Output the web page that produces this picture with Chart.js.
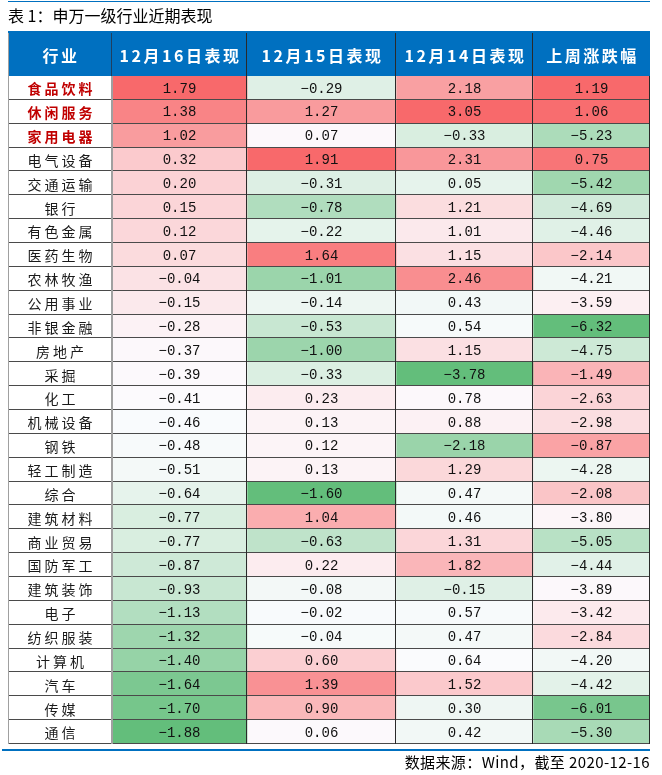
<!DOCTYPE html>
<html>
<head>
<meta charset="utf-8">
<script src="https://cdn.jsdelivr.net/npm/chart.js@4/dist/chart.umd.min.js"></script>
<style>
    body { margin: 0; background: #fff; }
    #wrap { position: relative; width: 662px; height: 775px; }
    #tableChart { position: absolute; left: 0; top: 0; }
    #title { position: absolute; left: 8px; top: 4px; font: 16px "Noto Sans CJK SC", sans-serif; color: #000; line-height: 22px; }
    #source { position: absolute; right: 12px; top: 751px; font: 15px "Noto Sans CJK SC", sans-serif; letter-spacing: 0.4px; color: #000; line-height: 22px; }
</style>
</head>
<body>
<div id="wrap">
    <canvas id="tableChart" width="662" height="775"></canvas>
    <div id="title">表 1：申万一级行业近期表现</div>
    <div id="source">数据来源：Wind，截至 2020-12-16</div>
</div>
<script>
const industries = ['食品饮料', '休闲服务', '家用电器', '电气设备', '交通运输', '银行', '有色金属', '医药生物',
    '农林牧渔', '公用事业', '非银金融', '房地产', '采掘', '化工', '机械设备', '钢铁', '轻工制造', '综合',
    '建筑材料', '商业贸易', '国防军工', '建筑装饰', '电子', '纺织服装', '计算机', '汽车', '传媒', '通信'];
const day16 = [1.79, 1.38, 1.02, 0.32, 0.20, 0.15, 0.12, 0.07, -0.04, -0.15, -0.28, -0.37, -0.39, -0.41,
    -0.46, -0.48, -0.51, -0.64, -0.77, -0.77, -0.87, -0.93, -1.13, -1.32, -1.40, -1.64, -1.70, -1.88];
const day15 = [-0.29, 1.27, 0.07, 1.91, -0.31, -0.78, -0.22, 1.64, -1.01, -0.14, -0.53, -1.00, -0.33, 0.23,
    0.13, 0.12, 0.13, -1.60, 1.04, -0.63, 0.22, -0.08, -0.02, -0.04, 0.60, 1.39, 0.90, 0.06];
const day14 = [2.18, 3.05, -0.33, 2.31, 0.05, 1.21, 1.01, 1.15, 2.46, 0.43, 0.54, 1.15, -3.78, 0.78,
    0.88, -2.18, 1.29, 0.47, 0.46, 1.31, 1.82, -0.15, 0.57, 0.47, 0.64, 1.52, 0.30, 0.42];
const lastWeek = [1.19, 1.06, -5.23, 0.75, -5.42, -4.69, -4.46, -2.14, -4.21, -3.59, -6.32, -4.75, -1.49, -2.63,
    -2.98, -0.87, -4.28, -2.08, -3.80, -5.05, -4.44, -3.89, -3.42, -2.84, -4.20, -4.42, -6.01, -5.30];
const headers = ['行业', '12月16日表现', '12月15日表现', '12月14日表现', '上周涨跌幅'];
const redNames = 3; // first rows shown in red

// column edges (px from the table's left border)
const colEdges = [0, 104, 239, 388, 525, 642];
const HEADER_H = 43;

// Excel-like 3 colour scale: min green, median white, max red
const GREEN = [99, 190, 123], WHITE = [252, 252, 255], RED = [248, 105, 107];
function median(arr) {
    const s = [...arr].sort((a, b) => a - b);
    const p = (s.length - 1) * 0.5;
    const lo = Math.floor(p), hi = Math.ceil(p);
    return s[lo] + (s[hi] - s[lo]) * (p - lo);
}
function mix(a, b, t) {
    return 'rgb(' + a.map((c, i) => Math.round(c + (b[i] - c) * t)).join(',') + ')';
}
function cellColor(v, vals) {
    const min = Math.min(...vals), max = Math.max(...vals), mid = median(vals);
    if (v <= mid) return mix(GREEN, WHITE, (v - min) / (mid - min));
    return mix(WHITE, RED, (v - mid) / (max - mid));
}
function fmt(v) {
    return v.toFixed(2).replace('-', '−');
}

const valueCols = [day16, day15, day14, lastWeek];

const barBase = { grouped: false, barPercentage: 1, categoryPercentage: 1, borderWidth: 0, borderSkipped: false };
const datasets = [
    Object.assign({ label: headers[0], data: industries.map(() => [colEdges[0], colEdges[1]]), backgroundColor: '#ffffff' }, barBase)
];
valueCols.forEach((vals, c) => {
    datasets.push(Object.assign({
        label: headers[c + 1],
        data: vals.map(() => [colEdges[c + 1], colEdges[c + 2]]),
        backgroundColor: vals.map(v => cellColor(v, vals))
    }, barBase));
});

const tablePlugin = {
    id: 'tablePlugin',
    afterDatasetsDraw(chart) {
        const ctx = chart.ctx;
        const area = chart.chartArea;
        const xs = chart.scales.x, ys = chart.scales.y;
        const rowH = (area.bottom - area.top) / industries.length;
        const ex = colEdges.map(e => Math.round(xs.getPixelForValue(e)));
        ctx.save();

        // cell texts
        ctx.textAlign = 'center';
        ctx.textBaseline = 'middle';
        industries.forEach((name, i) => {
            const cy = ys.getPixelForValue(i) + 1;
            ctx.letterSpacing = '3px';
            ctx.fillStyle = i < redNames ? '#c00000' : '#1a1a1a';
            ctx.font = (i < redNames ? 'bold ' : '') + '14px "Noto Sans CJK SC", sans-serif';
            ctx.fillText(name, (ex[0] + ex[1]) / 2 + 1.5, cy);
            ctx.letterSpacing = '0px';
            ctx.fillStyle = '#111';
            ctx.font = '14px "Liberation Mono", monospace';
            valueCols.forEach((vals, c) => {
                ctx.fillText(fmt(vals[i]), (ex[c + 1] + ex[c + 2]) / 2, cy);
            });
        });

        // row lines
        ctx.fillStyle = '#4a4a4a';
        for (let i = 1; i < industries.length; i++) {
            const y = Math.round(area.top + i * rowH);
            ctx.fillRect(ex[0], y - 1, ex[5] - ex[0], 1);
        }
        ctx.fillRect(ex[0], Math.round(area.bottom) - 1, ex[5] - ex[0], 1);

        // header
        const ht = area.top - HEADER_H;
        ctx.fillStyle = '#0070c0';
        ctx.fillRect(ex[0], ht, ex[5] - ex[0], HEADER_H);
        ctx.fillStyle = '#ffffff';
        ctx.font = 'bold 16px "Noto Sans CJK SC", sans-serif';
        ctx.letterSpacing = '2.5px';
        headers.forEach((h, c) => {
            ctx.fillText(h, (ex[c] + ex[c + 1]) / 2 + 1, ht + HEADER_H / 2 + 1);
        });
        ctx.letterSpacing = '0px';

        // column lines
        ctx.fillStyle = '#1f3f5f';
        ctx.fillRect(ex[1] - 1, ht, 1, HEADER_H);
        ctx.fillStyle = '#a0a0a0';
        ctx.fillRect(ex[1] - 1, area.top, 2, area.bottom - area.top);
        ctx.fillRect(ex[0], ht, 1, area.bottom - ht);
        ctx.fillStyle = '#2a2a2a';
        for (let c = 2; c < 5; c++) {
            ctx.fillRect(ex[c] - 1, ht, 1, area.bottom - ht);
        }
        ctx.fillRect(ex[5] - 1, area.top, 1, area.bottom - area.top);
        ctx.fillStyle = '#0070c0';
        ctx.fillRect(ex[5] - 1, ht, 1, HEADER_H);

        // blue rules
        ctx.fillStyle = '#0070c0';
        ctx.fillRect(ex[0], 1, ex[5] - ex[0], 1);
        ctx.fillRect(ex[0], ht - 2, ex[5] - ex[0], 2);
        ctx.fillRect(2, Math.round(area.bottom) + 5, ex[5] - 2, 2);
        ctx.restore();
    }
};

const ctx = document.getElementById('tableChart').getContext('2d');
const tableChart = new Chart(ctx, {
    type: 'bar',
    data: {
        labels: industries,
        datasets: datasets
    },
    options: {
        indexAxis: 'y',
        responsive: false,
        animation: false,
        devicePixelRatio: 1,
        layout: { padding: { left: 8, right: 12, top: 76, bottom: 31 } },
        scales: {
            x: { type: 'linear', min: colEdges[0], max: colEdges[colEdges.length - 1], display: false },
            y: { type: 'category', display: false, offset: true }
        },
        plugins: {
            legend: { display: false },
            tooltip: { enabled: false }
        }
    },
    plugins: [tablePlugin]
});
</script>
</body>
</html>
